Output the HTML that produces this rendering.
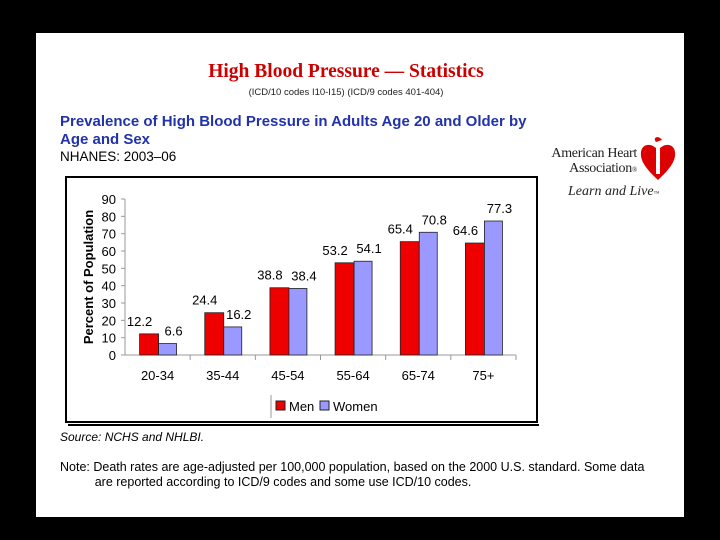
<!DOCTYPE html>
<html><head><meta charset="utf-8"><style>
body{margin:0;background:#000;width:720px;height:540px;overflow:hidden;font-family:"Liberation Sans",sans-serif}
#slide{position:absolute;left:36px;top:33px;width:648px;height:484px;background:#fff}
.t{position:absolute;white-space:nowrap}
</style></head><body>
<div id="slide">
<div class="t" style="left:-14px;width:648px;text-align:center;top:28px;font-family:'Liberation Serif',serif;font-weight:bold;font-size:19.5px;color:#c00">High Blood Pressure — Statistics</div>
<div class="t" style="left:-14px;width:648px;text-align:center;top:54px;font-size:9.5px;color:#222">(ICD/10 codes I10-I15) (ICD/9 codes 401-404)</div>
<div class="t" style="left:24px;top:80px;font-size:15px;font-weight:bold;color:#2233aa;line-height:18px">Prevalence of High Blood Pressure in Adults Age 20 and Older by<br>Age and Sex</div>
<div class="t" style="left:24px;top:116px;font-size:13.5px;color:#000">NHANES: 2003–06</div>
<div class="t" style="left:24px;top:397px;font-size:12px;font-style:italic">Source: NCHS and NHLBI.</div>
<div class="t" style="left:24px;top:427px;font-size:12.5px;line-height:15px">Note: Death rates are age-adjusted per 100,000 population, based on the 2000 U.S. standard. Some data<br>&nbsp;&nbsp;&nbsp;&nbsp;&nbsp;&nbsp;&nbsp;&nbsp;&nbsp;&nbsp;are reported according to ICD/9 codes and some use ICD/10 codes.</div>
</div>
<div style="position:absolute;left:0;top:0;width:720px;height:540px;pointer-events:none">
<div class="t" style="left:520px;width:117px;top:146px;font-family:'Liberation Serif',serif;font-size:14px;text-align:right;line-height:15px;color:#222;letter-spacing:-0.3px">American Heart<br>Association<span style="font-size:7px">®</span></div>
<svg style="position:absolute;left:639px;top:136px" width="38" height="46" viewBox="0 0 38 46"><path d="M19 44 C6 32 1 24 2 16 C3 8 12 6 19 14 C26 6 35 8 36 16 C37 24 32 32 19 44Z" fill="#d00"/><rect x="17" y="6" width="4" height="32" fill="#fff"/><path d="M17 6 C13 1 20 -1 23 4 Z" fill="#d00"/></svg>
<div class="t" style="left:568px;top:184px;font-family:'Liberation Serif',serif;font-style:italic;font-size:14px;color:#222">Learn and Live<span style="font-size:6px">™</span></div>
</div>
<svg id="chart" width="720" height="540" style="position:absolute;left:0;top:0" font-family="Liberation Sans, sans-serif"></svg>
<script>
const categories=["20-34","35-44","45-54","55-64","65-74","75+"];
const men=[12.2,24.4,38.8,53.2,65.4,64.6];
const women=[6.6,16.2,38.4,54.1,70.8,77.3];
const ticks=[0,10,20,30,40,50,60,70,80,90];
const svg=document.getElementById('chart');const NS='http://www.w3.org/2000/svg';
function mk(t,a,p){const e=document.createElementNS(NS,t);for(const k in a)e.setAttribute(k,a[k]);(p||svg).appendChild(e);return e;}
const X0=125,X1=516,Y0=355,Y90=199;
const y=v=>Y0-(v/90)*(Y0-Y90);
const cw=(X1-X0)/categories.length;
const bx=i=>X0+i*cw+cw/2;
let b=mk('rect',{x:66,y:177,width:471,height:245,fill:'#fff',stroke:'#000','stroke-width':2});


mk('rect',{x:68,y:424,width:471,height:2,fill:'#000'});
let ax=mk('line',{x1:X0,y1:Y90,x2:X0,y2:Y0,stroke:'#999'});


let xa=mk('line',{x1:X0,y1:Y0,x2:X1,y2:Y0,stroke:'#999'});


ticks.forEach(v=>{
 mk('line',{x1:X0-4,x2:X0,y1:y(v),y2:y(v),stroke:'#999'});
 const t=mk('text',{x:X0-9,y:y(v)+5,'text-anchor':'end','font-size':13});t.textContent=v;
 
 
});
let yt=mk('text',{transform:'translate(93,277) rotate(-90)','text-anchor':'middle','font-size':13,'font-weight':'bold'});yt.textContent='Percent of Population';


categories.forEach((c,i)=>{
 const cx=bx(i);
 mk('line',{x1:X0+(i+1)*cw,x2:X0+(i+1)*cw,y1:Y0,y2:Y0+5,stroke:'#999'});
 const m=mk('rect',{x:cx-18,y:y(men[i]),width:19,height:Y0-y(men[i]),fill:'#e00',stroke:'#222','stroke-width':0.8});
 
 
 const w=mk('rect',{x:cx+1,y:y(women[i]),width:18,height:Y0-y(women[i]),fill:'#9999ff',stroke:'#222','stroke-width':0.8});
 
 
 const lm=mk('text',{x:cx-18,y:y(men[i])-8,'text-anchor':'middle','font-size':13});lm.textContent=men[i].toFixed(1);
 
 
 const lw=mk('text',{x:cx+16,y:y(women[i])-8,'text-anchor':'middle','font-size':13});lw.textContent=women[i].toFixed(1);
 
 
 const xl=mk('text',{x:cx,y:380,'text-anchor':'middle','font-size':13});xl.textContent=c;
 
 
});
mk('line',{x1:271,x2:271,y1:395,y2:418,stroke:'#999'});
let lg1=mk('rect',{x:276,y:401,width:9,height:9,fill:'#e00',stroke:'#222'});


let lt1=mk('text',{x:289,y:411,'font-size':13});lt1.textContent='Men';


let lg2=mk('rect',{x:320,y:401,width:9,height:9,fill:'#9999ff',stroke:'#222'});


let lt2=mk('text',{x:333,y:411,'font-size':13});lt2.textContent='Women';


</script>
</body></html>
